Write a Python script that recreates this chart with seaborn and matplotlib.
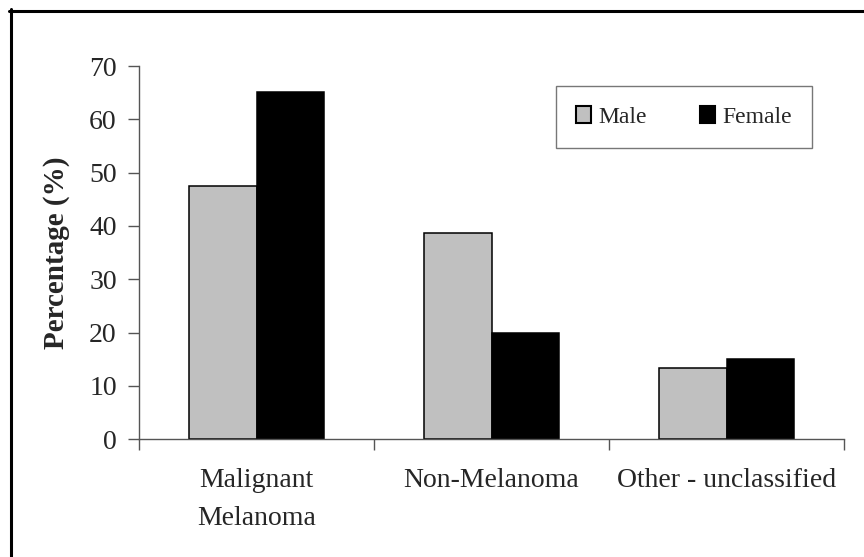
import matplotlib
matplotlib.use("Agg")
import matplotlib.pyplot as plt
import seaborn as sns
import pandas as pd
from matplotlib.lines import Line2D

categories = ["Malignant\nMelanoma", "Non-Melanoma", "Other - unclassified"]
male = [47.5, 38.6, 13.4]
female = [65.2, 20.0, 15.0]
series = ["Male", "Female"]
yticks = [0, 10, 20, 30, 40, 50, 60, 70]

df = pd.DataFrame({
    "category": categories * 2,
    "value": male + female,
    "sex": [series[0]] * 3 + [series[1]] * 3,
})

sns.set_theme(style="white")
plt.rcParams["font.family"] = ["Liberation Serif", "DejaVu Serif"]

fig = plt.figure(figsize=(8.64, 5.57), dpi=100)
ax = fig.add_axes([139 / 864, 1 - 439.3 / 557, (844 - 139) / 864, (439.3 - 66) / 557])

sns.barplot(data=df, x="category", y="value", hue="sex", order=categories,
            hue_order=series, palette={"Male": "#C0C0C0", "Female": "#000000"},
            width=0.575, gap=0, edgecolor="black", linewidth=1.1,
            saturation=1, ax=ax, legend=True)

ax.set_ylim(0, 70)
ax.set_yticks(yticks)
ax.set_yticklabels([str(t) for t in yticks], fontsize=20)
ax.set_xlim(-0.5, 2.5)
ax.set_xticks([-0.5, 0.5, 1.5, 2.5])
ax.set_xticklabels([])
ax.set_xticks([0, 1, 2], minor=True)
ax.set_xticklabels(categories, minor=True, fontsize=20, linespacing=1.65)
ax.tick_params(axis="x", which="minor", length=0, pad=21)
ax.tick_params(axis="x", which="major", length=8, width=1, color="#555555", direction="out", bottom=True)
ax.tick_params(axis="y", length=8, width=1, color="#555555", direction="out", left=True, pad=8)
ax.set_xlabel("")
ax.set_ylabel("Percentage (%)", fontsize=21, fontweight="bold", labelpad=14)

for s in ["top", "right"]:
    ax.spines[s].set_visible(False)
for s in ["left", "bottom"]:
    ax.spines[s].set_color("#555555")
    ax.spines[s].set_linewidth(1)

leg_x0 = (556 - 139) / 705
leg_y1 = (439.3 - 86) / 373.3
leg_w = (812 - 556) / 705
leg_h = (150 - 86) / 373.3
leg = ax.legend(loc="upper left", bbox_to_anchor=(leg_x0, leg_y1 - leg_h, leg_w, leg_h),
                mode="expand", ncol=2, fontsize=17, frameon=True, fancybox=False,
                borderpad=0.85, borderaxespad=0, handlelength=0.65, handleheight=0.75,
                handletextpad=0.3)
leg.get_frame().set_edgecolor("#555555")
leg.get_frame().set_linewidth(1)
for h in leg.legend_handles:
    h.set_edgecolor("black")
    h.set_linewidth(1.5)

fig.add_artist(Line2D([9 / 864, 1.0], [1 - 10.5 / 557, 1 - 10.5 / 557],
                      transform=fig.transFigure, color="black", linewidth=2.2))
fig.add_artist(Line2D([10.5 / 864, 10.5 / 864], [1 - 9 / 557, 0],
                      transform=fig.transFigure, color="black", linewidth=2.2))

fig.savefig("out.png", dpi=100)
